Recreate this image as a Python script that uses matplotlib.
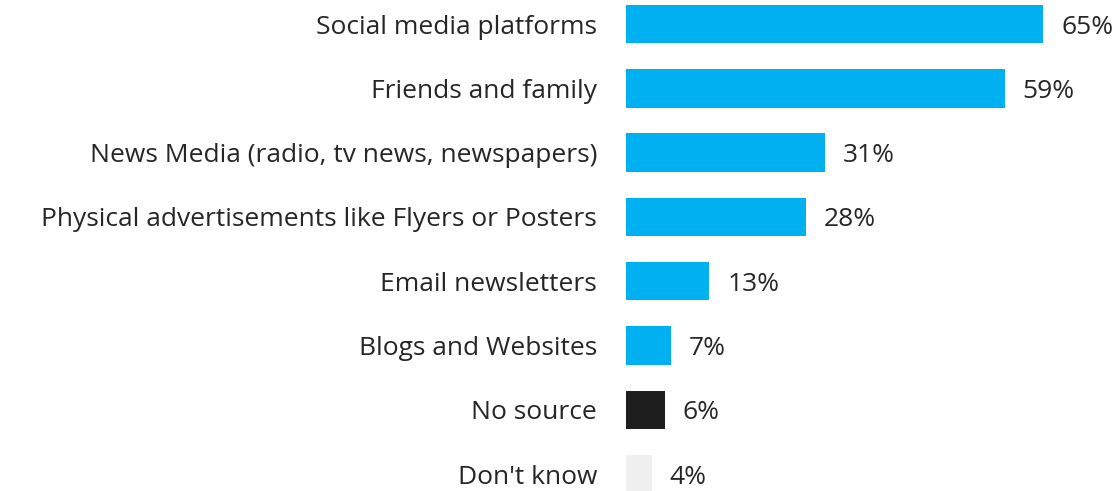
import matplotlib
matplotlib.use('Agg')
import matplotlib.pyplot as plt

# survey answers: where people hear about events
fontes = [
    "Social media platforms",
    "Friends and family",
    "News Media (radio, tv news, newspapers)",
    "Physical advertisements like Flyers or Posters",
    "Email newsletters",
    "Blogs and Websites",
    "No source",
    "Don't know",
]
percentuais = [65, 59, 31, 28, 13, 7, 6, 4]
cores = ["#00B0F0"] * 6 + ["#1E1E1E", "#F0F0F0"]

plt.rcParams['font.family'] = ['Open Sans', 'DejaVu Sans']
cor_texto = "#262626"

W, H = 1118, 491
fig = plt.figure(figsize=(W / 100, H / 100), dpi=100)
esq = 626
ax = fig.add_axes([esq / W, 0, (W - esq) / W, 1])

passo = 64.3
centro0 = 24
ax.set_ylim((H - centro0) / passo, -centro0 / passo)
ax.set_xlim(0, (W - esq) / 6.42)

pos = range(len(fontes))
ax.barh(pos, percentuais, height=0.6, color=cores)

for y, (nome, v) in enumerate(zip(fontes, percentuais)):
    ax.annotate(nome, xy=(0, y), xytext=(-29, -3), textcoords='offset pixels',
                ha='right', va='center', fontsize=19, color=cor_texto)
    ax.annotate(f"{v}%", xy=(v, y), xytext=(18, -3), textcoords='offset pixels',
                ha='left', va='center', fontsize=19, color=cor_texto)

ax.axis('off')
fig.savefig("out.png", dpi=100)
